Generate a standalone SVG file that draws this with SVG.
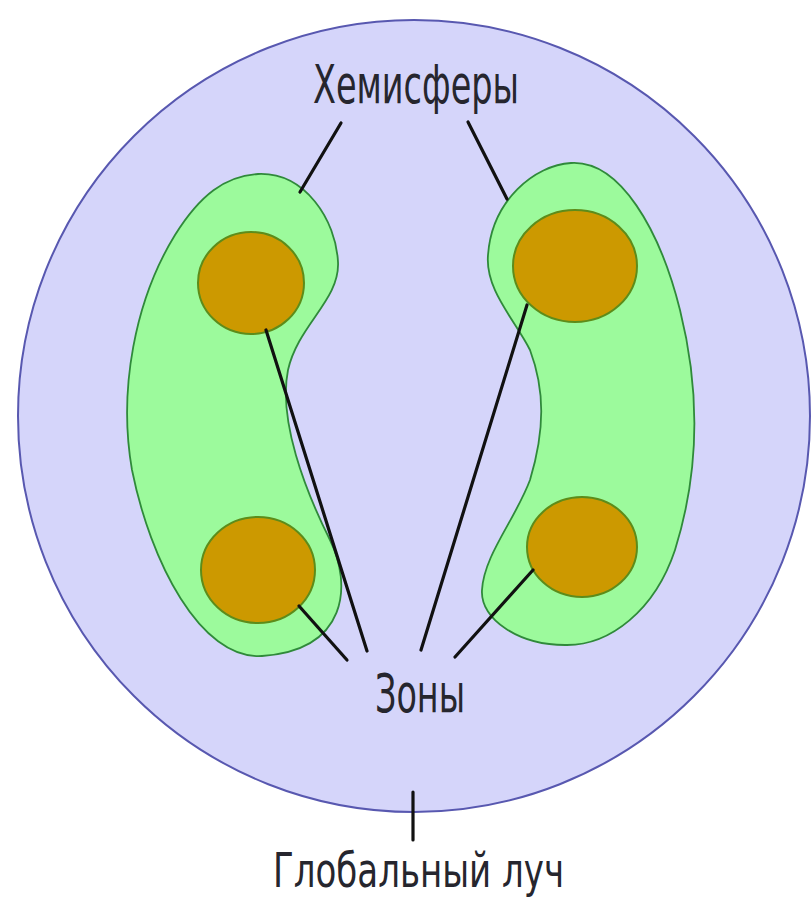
<svg xmlns="http://www.w3.org/2000/svg" width="811" height="903" viewBox="0 0 811 903">
<style>
.lbl{font-family:"DejaVu Sans Condensed","DejaVu Sans",sans-serif;fill:#26262e;}
.hemi{fill:#9cfa9c;stroke:#2f8a3a;stroke-width:1.8;}
.zone{fill:#cc9900;stroke:#5d8c1a;stroke-width:2;}
.ln{stroke:#111;stroke-width:3.2;fill:none;stroke-linecap:round;}
</style>
<rect width="811" height="903" fill="#ffffff"/>
<g id="global">
<circle cx="414" cy="416" r="396" fill="#d5d5fa" stroke="#5858b0" stroke-width="2"/>
</g>
<g id="hemisphere-left">
<path class="hemi" d="M 258 174 C 305 172, 336 220, 338 262 C 340 300, 298 325, 288 370 C 278 420, 305 490, 330 540 C 352 585, 348 650, 262 656 C 200 660, 150 560, 132 470 C 118 390, 135 300, 175 235 C 200 195, 225 176, 258 174 Z"/>
</g>
<g id="hemisphere-right">
<path class="hemi" d="M 571 163 C 620 160, 660 230, 680 310 C 700 390, 700 470, 675 550 C 655 610, 610 646, 565 645 C 520 645, 480 620, 482 590 C 484 555, 515 520, 530 480 C 545 430, 545 390, 530 350 C 515 320, 485 290, 488 255 C 492 200, 535 165, 571 163 Z"/>
</g>
<g id="zone-lt"><ellipse class="zone" cx="251" cy="283" rx="53" ry="51"/></g>
<g id="zone-lb"><ellipse class="zone" cx="258" cy="570" rx="57" ry="53"/></g>
<g id="zone-rt"><ellipse class="zone" cx="575" cy="266" rx="62" ry="56"/></g>
<g id="zone-rb"><ellipse class="zone" cx="582" cy="547" rx="55" ry="50"/></g>
<g id="connectors">
<line class="ln" x1="341" y1="123" x2="300" y2="192"/>
<line class="ln" x1="468" y1="122" x2="507" y2="199"/>
<line class="ln" x1="266" y1="330" x2="367" y2="651"/>
<line class="ln" x1="527" y1="305" x2="421" y2="650"/>
<line class="ln" x1="299" y1="606" x2="347" y2="660"/>
<line class="ln" x1="533" y1="570" x2="455" y2="657"/>
<line class="ln" x1="413" y1="792" x2="413" y2="840"/>
</g>
<g id="label-hemi"><text class="lbl" x="313" y="103" font-size="54" textLength="206" lengthAdjust="spacingAndGlyphs">Хемисферы</text></g>
<g id="label-zones"><text class="lbl" x="375" y="712" font-size="54" textLength="90" lengthAdjust="spacingAndGlyphs">Зоны</text></g>
<g id="label-global"><text class="lbl" x="273" y="887" font-size="48" textLength="291" lengthAdjust="spacingAndGlyphs">Глобальный луч</text></g>
</svg>
